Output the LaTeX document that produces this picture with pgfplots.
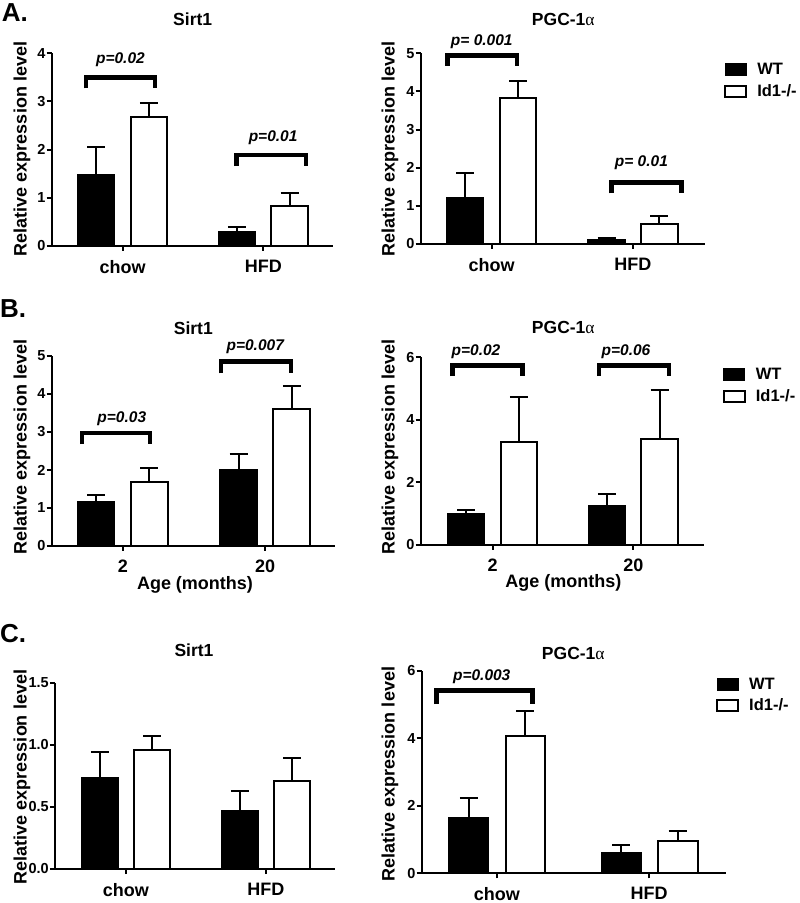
\documentclass[border=0pt]{standalone}
\usepackage{fontspec}
\setmainfont{Liberation Sans}
\newfontfamily\greekserif{Liberation Serif}
\usepackage{pgfplots}
\pgfplotsset{compat=1.18}

\pgfplotsset{
  panel/.style={
    scale only axis, anchor=south west, clip=false,
    axis lines=left, axis line style={-, line width=2pt, black},
    tick style={line width=2pt, black}, tick align=outside, major tick length=5pt,
    ymin=0, xtick={1,2},
    /pgf/number format/assume math mode=true,
    yticklabel style={font=\fontsize{14.5}{14.5}\selectfont\bfseries, inner sep=1pt},
    xticklabel style={font=\fontsize{18}{18}\selectfont\bfseries, inner sep=4pt, yshift=-5pt},
    legend style={draw=none, fill=none, anchor=north west, inner sep=0pt,
      font=\fontsize{16.5}{16.5}\selectfont\bfseries, row sep=6pt,
      nodes={inner sep=1pt, anchor=west}},
    legend cell align=left,
  },
  ebar/.style={error bars/y dir=plus, error bars/y explicit,
    error bars/error bar style={line width=2pt, black},
    error bars/error mark options={rotate=90, mark size=9pt, line width=2pt, black}},
  wt/.style={ybar, bar width=0.26, bar shift=0pt, fill=black, draw=black, line width=1.5pt, ebar},
  ko/.style={ybar, bar width=0.26, bar shift=0pt, fill=white, draw=black, line width=2pt, ebar},
  wtleg/.style={legend image code/.code={\path[draw=none, fill=none] (0pt,0pt) rectangle (31pt,0pt); \filldraw[black, line width=1pt] (0pt,-6pt) rectangle (21pt,6pt);}},
  koleg/.style={legend image code/.code={\path[draw=none, fill=none] (0pt,0pt) rectangle (31pt,0pt); \draw[black, fill=white, line width=2pt] (0pt,-5.5pt) rectangle (21pt,5.5pt);}},
  br/.style={sharp plot, line width=4.5pt, black, no markers, forget plot, line join=miter},
}
\newcommand{\pv}{\fontsize{15.5}{15.5}\selectfont\bfseries\itshape}

\begin{document}
\begin{tikzpicture}
\path[use as bounding box] (0,0) rectangle (800pt,903pt);

% ---------- A left: Sirt1 ----------
\begin{axis}[panel, at={(51.7pt,657pt)}, width=281.3pt, height=192.7pt,
  xmin=0.495, xmax=2.496, ymax=4, ytick={0,1,2,3,4}, xticklabels={chow,HFD}]
\addplot[wt] coordinates {(0.813,1.48) +- (0,0.58) (1.813,0.30) +- (0,0.09)};
\addplot[ko] coordinates {(1.187,2.67) +- (0,0.29) (2.187,0.84) +- (0,0.25)};
\addplot[br] coordinates {(0.739,3.27) (0.739,3.50) (1.229,3.50) (1.229,3.27)};
\addplot[br] coordinates {(1.811,1.66) (1.811,1.89) (2.304,1.89) (2.304,1.66)};
\node[font=\pv] at (axis cs:0.984,3.86) {p=0.02};
\node[font=\pv] at (axis cs:2.07,2.25) {p=0.01};
\end{axis}

% ---------- A right: PGC-1a ----------
\begin{axis}[panel, at={(420.7pt,659pt)}, width=284.3pt, height=190.7pt,
  xmin=0.498, xmax=2.51, ymax=5, ytick={0,1,2,3,4,5}, xticklabels={chow,HFD},
  legend style={at={(axis description cs:1.067,0.953)}}]
\addplot[wt, wtleg] coordinates {(0.813,1.22) +- (0,0.64) (1.813,0.11) +- (0,0.04)};
\addlegendentry{WT}
\addplot[ko, koleg] coordinates {(1.187,3.82) +- (0,0.46) (2.187,0.53) +- (0,0.21)};
\addlegendentry{Id1-/-}
\addplot[br] coordinates {(0.689,4.67) (0.689,4.94) (1.181,4.94) (1.181,4.67)};
\addplot[br] coordinates {(1.849,1.33) (1.849,1.61) (2.345,1.61) (2.345,1.33)};
\node[font=\pv] at (axis cs:0.93,5.30) {p= 0.001};
\node[font=\pv] at (axis cs:2.06,2.14) {p= 0.01};
\end{axis}

% ---------- B left: Sirt1 by age ----------
\begin{axis}[panel, at={(51.7pt,357pt)}, width=283.3pt, height=190pt,
  xmin=0.501, xmax=2.49, ymax=5, ytick={0,1,2,3,4,5}, xticklabels={2,20}]
\addplot[wt] coordinates {(0.813,1.16) +- (0,0.18) (1.813,2.00) +- (0,0.42)};
\addplot[ko] coordinates {(1.187,1.68) +- (0,0.36) (2.187,3.60) +- (0,0.61)};
\addplot[br] coordinates {(0.712,2.68) (0.712,2.97) (1.192,2.97) (1.192,2.68)};
\addplot[br] coordinates {(1.689,4.54) (1.689,4.85) (2.18,4.85) (2.18,4.54)};
\node[font=\pv] at (axis cs:0.993,3.36) {p=0.03};
\node[font=\pv] at (axis cs:1.93,5.24) {p=0.007};
\end{axis}

% ---------- B right: PGC-1a by age ----------
\begin{axis}[panel, at={(420.7pt,358pt)}, width=283.3pt, height=187.7pt,
  xmin=0.488, xmax=2.503, ymax=6, ytick={0,2,4,6}, xticklabels={2,20},
  legend style={at={(axis description cs:1.066,0.947)}}]
\addplot[wt, wtleg] coordinates {(0.813,0.99) +- (0,0.13) (1.813,1.25) +- (0,0.38)};
\addlegendentry{WT}
\addplot[ko, koleg] coordinates {(1.187,3.30) +- (0,1.42) (2.187,3.39) +- (0,1.57)};
\addlegendentry{Id1-/-}
\addplot[br] coordinates {(0.713,5.40) (0.713,5.74) (1.211,5.74) (1.211,5.40)};
\addplot[br] coordinates {(1.756,5.40) (1.756,5.74) (2.254,5.74) (2.254,5.40)};
\node[font=\pv] at (axis cs:0.881,6.18) {p=0.02};
\node[font=\pv] at (axis cs:1.948,6.18) {p=0.06};
\end{axis}

% ---------- C left: Sirt1 ----------
\begin{axis}[panel, at={(55pt,34pt)}, width=280pt, height=186.3pt,
  xmin=0.493, xmax=2.493, ymax=1.5, ytick={0,0.5,1,1.5}, xticklabels={chow,HFD},
  yticklabel style={/pgf/number format/.cd, fixed, fixed zerofill, precision=1}]
\addplot[wt] coordinates {(0.813,0.735) +- (0,0.21) (1.813,0.47) +- (0,0.16)};
\addplot[ko] coordinates {(1.187,0.958) +- (0,0.11) (2.187,0.711) +- (0,0.18)};
\end{axis}

% ---------- C right: PGC-1a ----------
\begin{axis}[panel, at={(421.7pt,29.7pt)}, width=304.3pt, height=202.6pt,
  xmin=0.506, xmax=2.504, ymax=6, ytick={0,2,4,6}, xticklabels={chow,HFD},
  legend style={at={(axis description cs:0.967,0.970)}}]
\addplot[wt, wtleg] coordinates {(0.816,1.65) +- (0,0.57) (1.816,0.61) +- (0,0.23)};
\addlegendentry{WT}
\addplot[ko, koleg] coordinates {(1.187,4.07) +- (0,0.75) (2.187,0.97) +- (0,0.28)};
\addlegendentry{Id1-/-}
\addplot[br] coordinates {(0.604,5.01) (0.604,5.41) (1.232,5.41) (1.232,5.01)};
\node[font=\pv] at (axis cs:0.90,5.82) {p=0.003};
\end{axis}

% ---------- titles, labels, panel letters ----------
\begin{scope}[every node/.style={inner sep=0pt}]
\node[font=\fontsize{26}{26}\selectfont\bfseries, anchor=west] at (1.7pt,890.2pt) {A.};
\node[font=\fontsize{26}{26}\selectfont\bfseries, anchor=west] at (0pt,594.3pt) {B.};
\node[font=\fontsize{26}{26}\selectfont\bfseries, anchor=west] at (0pt,269.5pt) {C.};

\node[font=\fontsize{17.5}{17.5}\selectfont\bfseries] at (192.7pt,883.7pt) {Sirt1};
\node[font=\fontsize{17.5}{17.5}\selectfont\bfseries] at (563.3pt,883.7pt) {PGC-1{\mdseries\greekserif α}};
\node[font=\fontsize{17.5}{17.5}\selectfont\bfseries] at (193.3pt,574.7pt) {Sirt1};
\node[font=\fontsize{17.5}{17.5}\selectfont\bfseries] at (563.3pt,575.7pt) {PGC-1{\mdseries\greekserif α}};
\node[font=\fontsize{17.5}{17.5}\selectfont\bfseries] at (194pt,253pt) {Sirt1};
\node[font=\fontsize{17.5}{17.5}\selectfont\bfseries] at (573.3pt,249.7pt) {PGC-1{\mdseries\greekserif α}};

\node[font=\fontsize{18}{18}\selectfont\bfseries, rotate=90] at (22pt,754pt) {Relative expression level};
\node[font=\fontsize{18}{18}\selectfont\bfseries, rotate=90] at (390pt,754pt) {Relative expression level};
\node[font=\fontsize{18}{18}\selectfont\bfseries, rotate=90] at (22pt,456pt) {Relative expression level};
\node[font=\fontsize{18}{18}\selectfont\bfseries, rotate=90] at (390pt,456pt) {Relative expression level};
\node[font=\fontsize{18}{18}\selectfont\bfseries, rotate=90] at (22pt,126pt) {Relative expression level};
\node[font=\fontsize{18}{18}\selectfont\bfseries, rotate=90] at (390pt,129pt) {Relative expression level};

\node[font=\fontsize{18}{18}\selectfont\bfseries] at (195pt,318pt) {Age (months)};
\node[font=\fontsize{18}{18}\selectfont\bfseries] at (563.3pt,319.7pt) {Age (months)};
\end{scope}
\end{tikzpicture}
\end{document}
